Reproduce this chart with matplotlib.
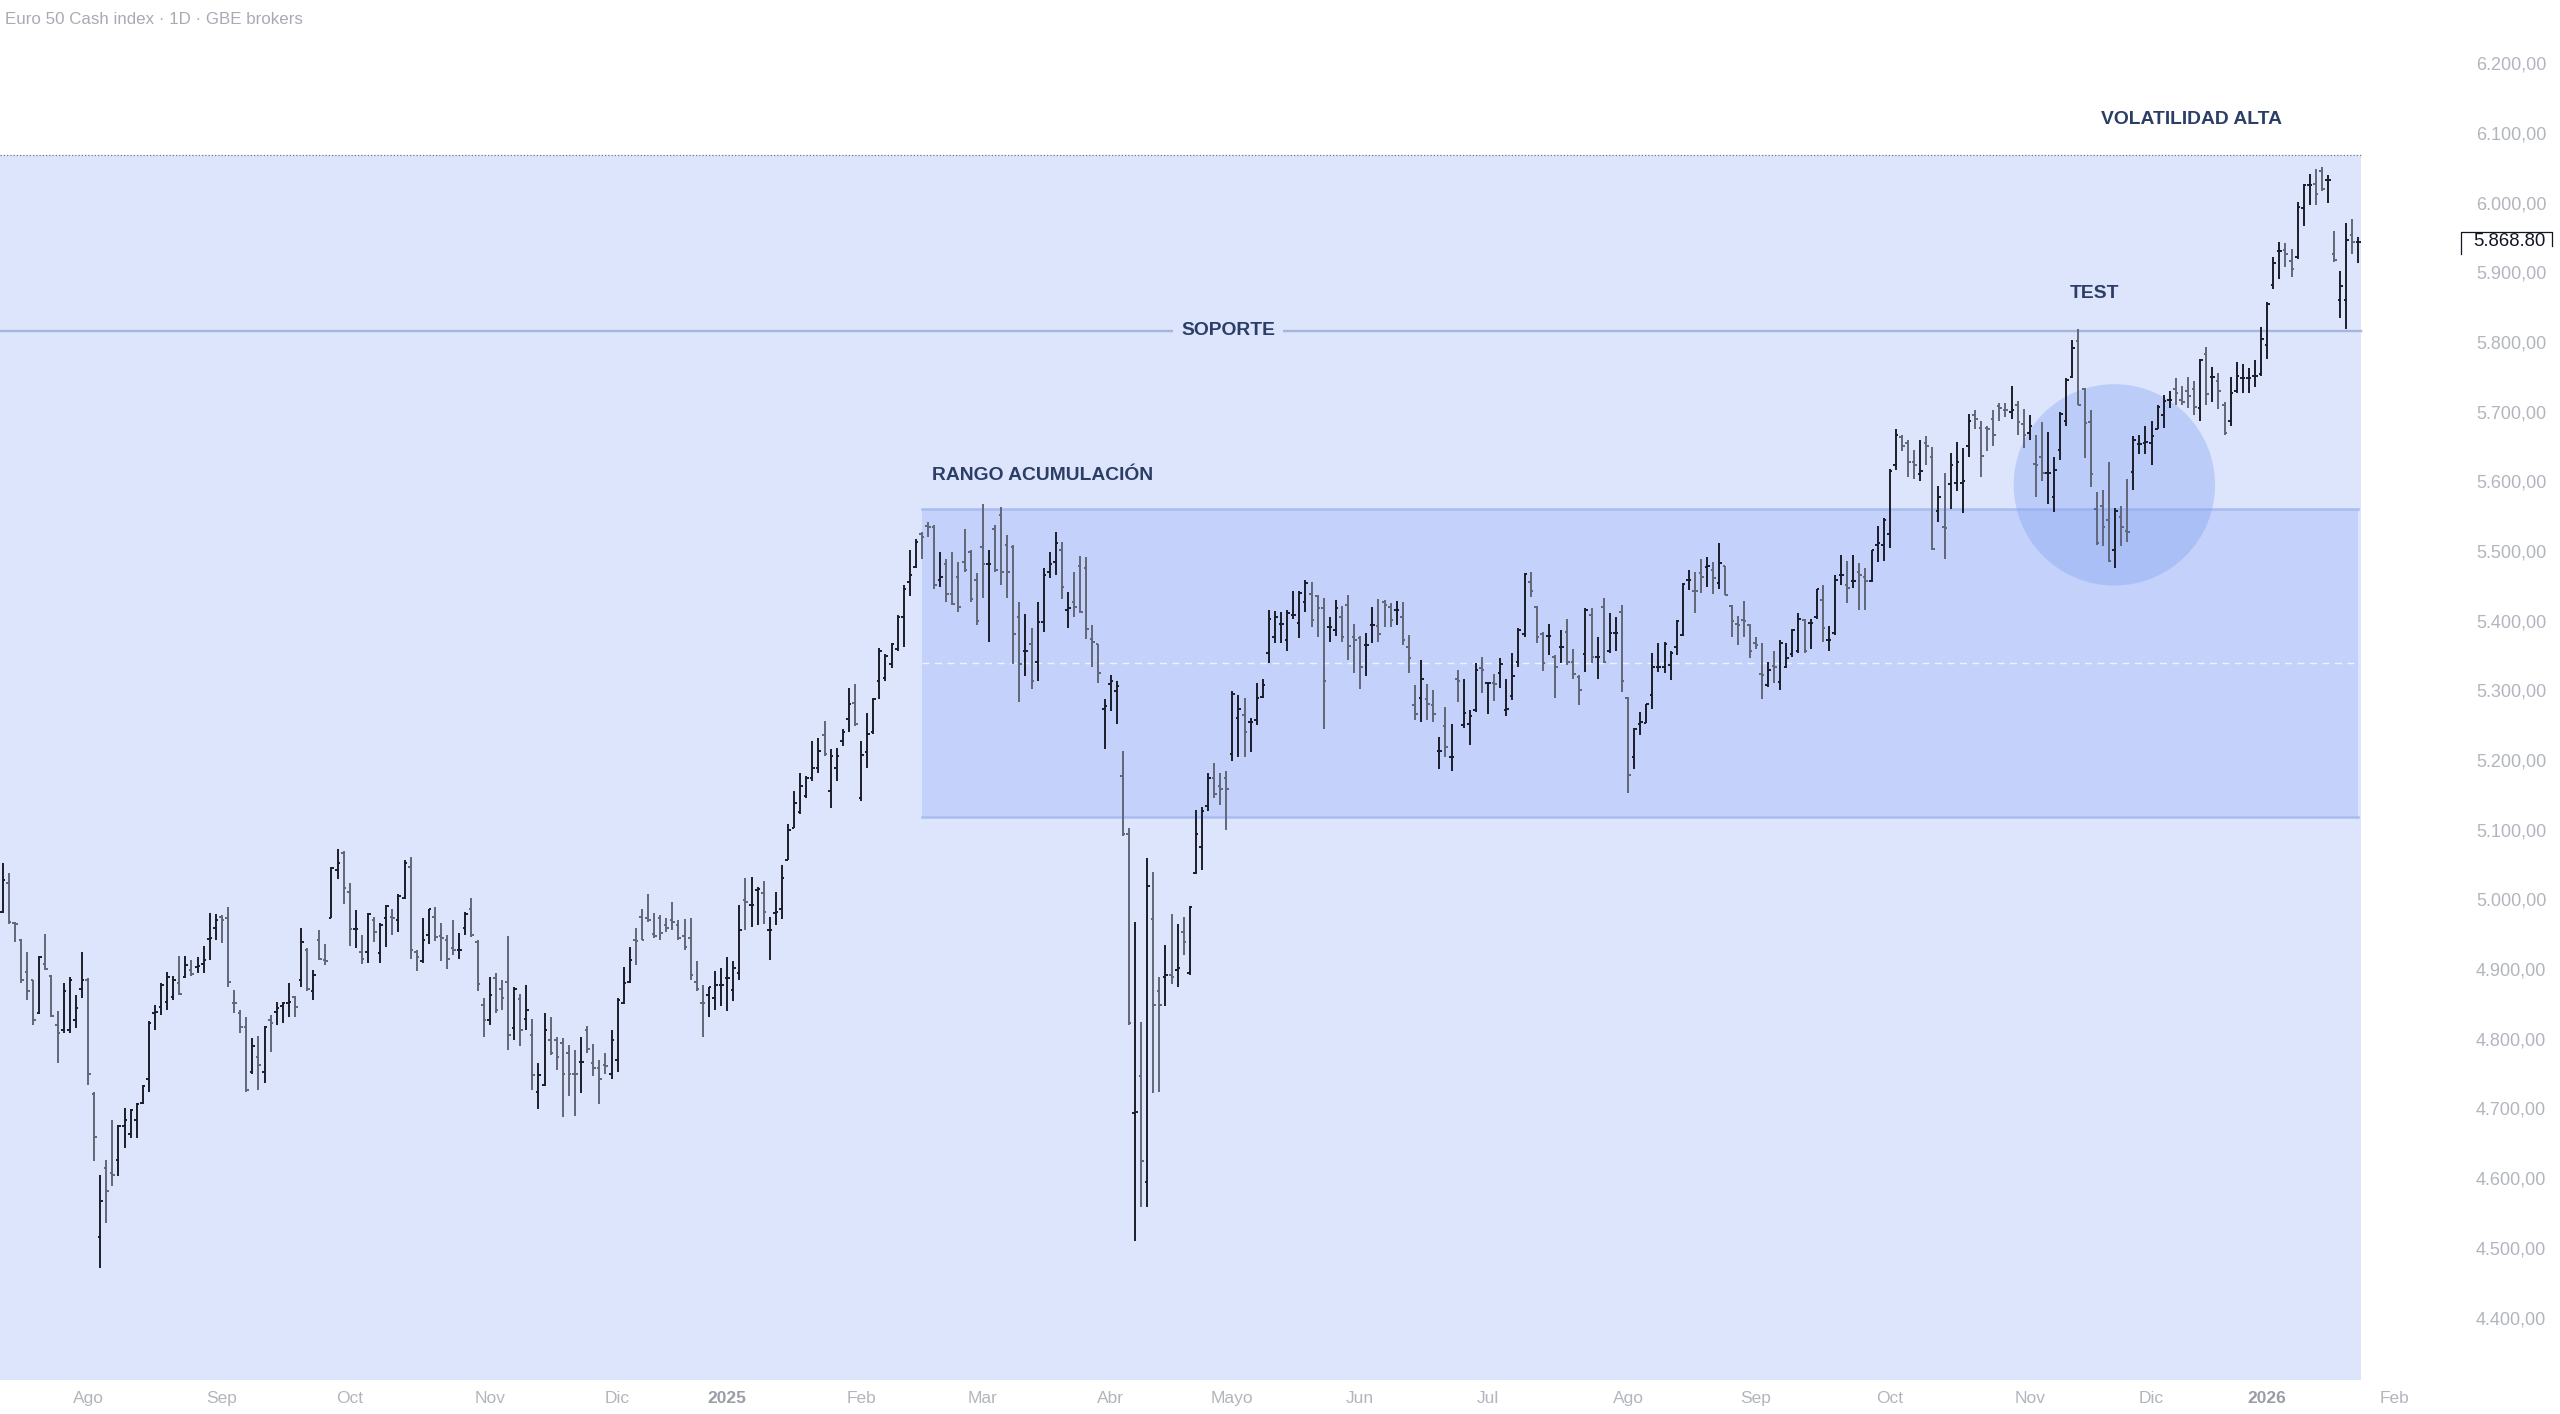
import numpy as np
import pandas as pd
import matplotlib
matplotlib.use("Agg")
import matplotlib.pyplot as plt
from matplotlib.collections import LineCollection
from matplotlib.patches import Rectangle, Ellipse
from matplotlib.lines import Line2D
from matplotlib.transforms import IdentityTransform
import matplotlib.transforms as mtransforms

# ---------------- data ----------------
title = "Euro 50 Cash index · 1D · GBE brokers"
start_date = "2024-07-12"
calendar_end = "2026-02-27"
holidays = ["2024-12-24", "2024-12-25", "2024-12-26", "2024-12-31", "2025-01-01",
            "2025-04-18", "2025-04-21", "2025-05-01", "2025-12-24", "2025-12-25",
            "2025-12-26", "2025-12-31", "2026-01-01"]

opens = [4982, 5023, 4966, 4942, 4896, 4884, 4837, 4908, 4890, 4820, 4812, 4813, 4827, 4871, 4885, 4721, 4516, 4614, 4607, 4626,
         4675, 4664, 4683, 4708, 4742, 4837, 4846, 4853, 4860, 4880, 4889, 4899, 4903, 4908, 4943, 4959, 4975, 4973, 4852, 4837,
         4817, 4753, 4774, 4753, 4827, 4839, 4847, 4851, 4860, 4884, 4927, 4868, 4942, 4913, 4973, 5042, 5066, 5011, 4958, 4925,
         4925, 4970, 4923, 4973, 4975, 4971, 5002, 5047, 4924, 4911, 4949, 4975, 4947, 4942, 4930, 4927, 4959, 4986, 4939, 4848,
         4827, 4887, 4872, 4881, 4815, 4857, 4828, 4805, 4724, 4734, 4798, 4799, 4794, 4779, 4750, 4767, 4813, 4765, 4758, 4762,
         4750, 4770, 4852, 4881, 4942, 4975, 4973, 4951, 4974, 4963, 4970, 4963, 4947, 4945, 4882, 4852, 4863, 4859, 4877, 4888,
         4870, 4894, 4999, 4992, 5013, 5009, 4956, 4981, 4987, 5056, 5102, 5125, 5149, 5174, 5188, 5236, 5156, 5188, 5227, 5259,
         5282, 5145, 5211, 5241, 5313, 5318, 5338, 5359, 5406, 5456, 5477, 5525, 5536, 5534, 5459, 5481, 5438, 5463, 5484, 5498,
         5459, 5506, 5481, 5532, 5552, 5509, 5506, 5406, 5356, 5366, 5341, 5398, 5470, 5484, 5502, 5416, 5427, 5479, 5475, 5374,
         5366, 5274, 5309, 5299, 5177, 5094, 4694, 4747, 4595, 4972, 4868, 4889, 4892, 4899, 4954, 4895, 5038, 5075, 5134, 5174,
         5163, 5175, 5209, 5260, 5265, 5254, 5257, 5291, 5353, 5377, 5396, 5372, 5408, 5397, 5427, 5439, 5435, 5418, 5391, 5387,
         5405, 5423, 5377, 5375, 5365, 5394, 5392, 5427, 5420, 5415, 5405, 5362, 5279, 5289, 5287, 5279, 5213, 5249, 5204, 5316,
         5250, 5252, 5272, 5332, 5310, 5310, 5325, 5272, 5292, 5341, 5381, 5456, 5420, 5381, 5378, 5348, 5362, 5384, 5341, 5319,
         5352, 5408, 5348, 5420, 5357, 5382, 5412, 5289, 5204, 5252, 5253, 5293, 5334, 5334, 5336, 5362, 5380, 5458, 5443, 5468,
         5477, 5473, 5454, 5478, 5421, 5396, 5401, 5394, 5368, 5323, 5308, 5335, 5312, 5334, 5352, 5357, 5401, 5397, 5405, 5430,
         5373, 5382, 5465, 5452, 5457, 5470, 5463, 5457, 5509, 5508, 5524, 5623, 5664, 5655, 5628, 5611, 5655, 5635, 5557, 5534,
         5596, 5598, 5598, 5651, 5695, 5677, 5676, 5690, 5708, 5703, 5700, 5709, 5682, 5669, 5625, 5635, 5612, 5578, 5645, 5687,
         5750, 5801, 5733, 5685, 5560, 5565, 5544, 5502, 5549, 5529, 5613, 5653, 5655, 5655, 5675, 5695, 5717, 5732, 5717, 5729,
         5732, 5705, 5783, 5750, 5744, 5709, 5687, 5729, 5749, 5749, 5751, 5754, 5796, 5882, 5931, 5932, 5916, 5922, 5992, 6025,
         6027, 6046, 6032, 5927, 5860, 5860, 5953, 5943]
highs = [5052, 5038, 4968, 4943, 4925, 4885, 4919, 4950, 4892, 4840, 4880, 4889, 4863, 4925, 4887, 4723, 4604, 4626, 4683, 4676,
         4700, 4699, 4708, 4734, 4825, 4848, 4880, 4896, 4890, 4919, 4919, 4913, 4918, 4933, 4981, 4979, 4978, 4989, 4870, 4842,
         4831, 4801, 4804, 4818, 4834, 4853, 4853, 4880, 4862, 4959, 4930, 4899, 4956, 4936, 5047, 5073, 5069, 5023, 4985, 4949,
         4980, 4975, 4966, 4992, 4987, 5008, 5056, 5061, 4927, 4973, 4987, 4989, 4966, 4949, 4971, 4952, 4982, 5002, 4942, 4858,
         4889, 4894, 4884, 4948, 4875, 4865, 4877, 4828, 4766, 4837, 4832, 4802, 4801, 4791, 4784, 4802, 4818, 4793, 4769, 4780,
         4813, 4858, 4903, 4932, 4959, 4987, 5008, 4980, 4977, 4974, 4997, 4970, 4972, 4974, 4911, 4877, 4875, 4897, 4902, 4918,
         4911, 4992, 5031, 5032, 5018, 5027, 4975, 5011, 5049, 5109, 5156, 5181, 5177, 5227, 5232, 5256, 5216, 5218, 5245, 5304,
         5309, 5227, 5268, 5289, 5361, 5352, 5368, 5408, 5452, 5502, 5518, 5527, 5541, 5538, 5498, 5488, 5498, 5484, 5532, 5502,
         5468, 5568, 5502, 5538, 5563, 5523, 5509, 5427, 5409, 5389, 5427, 5475, 5498, 5527, 5513, 5441, 5470, 5493, 5491, 5394,
         5366, 5288, 5322, 5313, 5213, 5102, 4967, 4824, 5059, 5039, 4889, 4934, 4979, 4965, 4975, 4991, 5129, 5132, 5181, 5196,
         5181, 5184, 5299, 5293, 5289, 5260, 5311, 5316, 5415, 5414, 5413, 5415, 5442, 5442, 5459, 5455, 5437, 5432, 5406, 5430,
         5421, 5437, 5396, 5378, 5382, 5420, 5431, 5430, 5426, 5429, 5427, 5380, 5308, 5344, 5309, 5301, 5233, 5276, 5252, 5329,
         5316, 5272, 5340, 5348, 5312, 5324, 5346, 5316, 5354, 5389, 5469, 5470, 5421, 5384, 5395, 5351, 5387, 5403, 5360, 5322,
         5418, 5419, 5376, 5432, 5411, 5405, 5423, 5291, 5246, 5269, 5281, 5353, 5368, 5370, 5356, 5401, 5454, 5473, 5470, 5488,
         5491, 5485, 5511, 5479, 5423, 5407, 5429, 5395, 5377, 5368, 5341, 5357, 5373, 5368, 5388, 5411, 5403, 5402, 5446, 5451,
         5392, 5466, 5494, 5486, 5494, 5483, 5475, 5502, 5536, 5547, 5618, 5675, 5667, 5660, 5645, 5660, 5665, 5650, 5593, 5612,
         5641, 5656, 5648, 5697, 5702, 5687, 5680, 5702, 5713, 5712, 5737, 5715, 5704, 5695, 5667, 5685, 5671, 5635, 5700, 5749,
         5803, 5818, 5734, 5702, 5585, 5587, 5628, 5562, 5564, 5603, 5665, 5667, 5680, 5687, 5709, 5724, 5730, 5748, 5737, 5750,
         5744, 5776, 5793, 5764, 5755, 5714, 5750, 5771, 5769, 5763, 5774, 5821, 5858, 5922, 5943, 5942, 5933, 6001, 6027, 6041,
         6049, 6051, 6040, 5959, 5902, 5971, 5977, 5951]
lows = [4981, 4965, 4939, 4880, 4856, 4820, 4835, 4899, 4831, 4765, 4808, 4808, 4815, 4858, 4734, 4624, 4471, 4536, 4589, 4603,
        4643, 4657, 4657, 4706, 4724, 4813, 4834, 4841, 4856, 4863, 4887, 4890, 4894, 4895, 4913, 4942, 4938, 4875, 4837, 4808,
        4724, 4750, 4726, 4736, 4781, 4820, 4822, 4832, 4832, 4875, 4869, 4856, 4913, 4906, 4973, 5030, 4994, 4933, 4930, 4907,
        4909, 4939, 4909, 4932, 4949, 4954, 5000, 4915, 4898, 4909, 4936, 4941, 4911, 4900, 4920, 4914, 4949, 4946, 4868, 4803,
        4820, 4837, 4841, 4784, 4798, 4789, 4813, 4727, 4699, 4732, 4777, 4755, 4688, 4718, 4689, 4722, 4779, 4747, 4707, 4750,
        4742, 4753, 4850, 4880, 4906, 4942, 4968, 4944, 4942, 4954, 4956, 4942, 4927, 4884, 4868, 4802, 4831, 4842, 4847, 4840,
        4854, 4884, 4956, 4961, 4963, 4965, 4913, 4963, 4972, 5056, 5102, 5122, 5145, 5170, 5181, 5206, 5131, 5170, 5220, 5241,
        5249, 5141, 5189, 5238, 5288, 5313, 5332, 5356, 5363, 5436, 5475, 5488, 5520, 5446, 5448, 5427, 5422, 5413, 5470, 5427,
        5394, 5432, 5370, 5470, 5452, 5432, 5338, 5284, 5320, 5302, 5313, 5384, 5461, 5466, 5431, 5389, 5406, 5411, 5374, 5334,
        5311, 5216, 5270, 5252, 5091, 4820, 4510, 4558, 4558, 4722, 4724, 4847, 4879, 4874, 4920, 4892, 5037, 5042, 5127, 5145,
        5136, 5099, 5199, 5205, 5205, 5211, 5250, 5289, 5340, 5368, 5368, 5357, 5402, 5375, 5413, 5391, 5376, 5244, 5370, 5378,
        5370, 5344, 5325, 5302, 5321, 5368, 5370, 5391, 5391, 5394, 5365, 5325, 5257, 5255, 5258, 5254, 5187, 5205, 5185, 5284,
        5246, 5222, 5269, 5296, 5266, 5285, 5304, 5263, 5286, 5334, 5377, 5434, 5368, 5328, 5351, 5289, 5340, 5336, 5317, 5279,
        5327, 5339, 5317, 5340, 5353, 5356, 5298, 5153, 5187, 5236, 5253, 5274, 5327, 5325, 5315, 5351, 5378, 5444, 5411, 5440,
        5448, 5439, 5445, 5437, 5376, 5365, 5377, 5346, 5359, 5287, 5305, 5311, 5301, 5332, 5348, 5354, 5353, 5359, 5402, 5370,
        5357, 5379, 5452, 5425, 5447, 5415, 5415, 5456, 5485, 5486, 5504, 5617, 5643, 5607, 5603, 5601, 5623, 5502, 5542, 5488,
        5561, 5586, 5555, 5635, 5675, 5607, 5643, 5651, 5686, 5692, 5690, 5667, 5648, 5660, 5578, 5601, 5567, 5556, 5631, 5680,
        5749, 5709, 5633, 5592, 5509, 5507, 5485, 5475, 5507, 5513, 5588, 5640, 5639, 5623, 5675, 5677, 5705, 5710, 5710, 5705,
        5695, 5686, 5710, 5714, 5704, 5667, 5679, 5727, 5727, 5727, 5735, 5751, 5775, 5876, 5890, 5907, 5893, 5919, 5966, 5996,
        5997, 6017, 5999, 5915, 5834, 5819, 5927, 5914]
closes = [5028, 4968, 4965, 4884, 4869, 4827, 4918, 4900, 4833, 4808, 4868, 4884, 4844, 4885, 4750, 4659, 4567, 4581, 4605, 4675,
          4684, 4698, 4707, 4732, 4822, 4839, 4877, 4889, 4885, 4865, 4906, 4893, 4904, 4913, 4944, 4970, 4971, 4882, 4851, 4817,
          4726, 4790, 4762, 4817, 4822, 4844, 4851, 4853, 4846, 4939, 4871, 4892, 4915, 4912, 5045, 5053, 5016, 4958, 4958, 4915,
          4979, 4954, 4963, 4991, 4974, 5005, 5053, 4928, 4917, 4942, 4986, 4946, 4944, 4914, 4928, 4928, 4979, 4949, 4879, 4827,
          4863, 4841, 4858, 4805, 4872, 4812, 4842, 4748, 4748, 4812, 4779, 4774, 4750, 4749, 4749, 4767, 4786, 4758, 4742, 4761,
          4799, 4856, 4880, 4913, 4941, 4942, 4970, 4947, 4952, 4959, 4968, 4945, 4932, 4892, 4872, 4851, 4874, 4877, 4877, 4888,
          4902, 4956, 4997, 4992, 5015, 4982, 4956, 4982, 5031, 5099, 5138, 5163, 5174, 5189, 5213, 5209, 5206, 5206, 5241, 5281,
          5252, 5208, 5238, 5288, 5356, 5349, 5366, 5406, 5445, 5466, 5513, 5520, 5534, 5452, 5463, 5439, 5424, 5420, 5473, 5431,
          5399, 5481, 5482, 5473, 5470, 5470, 5381, 5338, 5356, 5313, 5398, 5466, 5482, 5511, 5448, 5418, 5420, 5413, 5388, 5370,
          5325, 5277, 5313, 5306, 5094, 4822, 4695, 4625, 5020, 4849, 4849, 4892, 4889, 4902, 4939, 4989, 5094, 5127, 5175, 5152,
          5158, 5158, 5295, 5274, 5241, 5255, 5289, 5308, 5403, 5405, 5396, 5411, 5408, 5440, 5454, 5401, 5418, 5314, 5391, 5419,
          5376, 5364, 5373, 5334, 5365, 5394, 5381, 5423, 5401, 5415, 5373, 5347, 5266, 5316, 5280, 5266, 5213, 5219, 5204, 5314,
          5267, 5263, 5329, 5330, 5310, 5309, 5338, 5273, 5320, 5387, 5467, 5442, 5377, 5340, 5378, 5334, 5362, 5341, 5324, 5300,
          5416, 5348, 5348, 5341, 5383, 5382, 5313, 5179, 5244, 5254, 5280, 5333, 5334, 5367, 5353, 5399, 5453, 5458, 5442, 5463,
          5478, 5461, 5483, 5437, 5400, 5394, 5400, 5356, 5365, 5322, 5329, 5334, 5368, 5347, 5386, 5402, 5356, 5397, 5445, 5389,
          5373, 5459, 5466, 5447, 5457, 5466, 5457, 5501, 5512, 5544, 5615, 5666, 5651, 5628, 5623, 5615, 5651, 5503, 5578, 5533,
          5623, 5628, 5600, 5687, 5690, 5636, 5675, 5666, 5705, 5702, 5703, 5685, 5666, 5679, 5623, 5612, 5612, 5616, 5697, 5746,
          5791, 5709, 5684, 5611, 5512, 5534, 5486, 5557, 5534, 5528, 5660, 5653, 5656, 5665, 5707, 5715, 5717, 5727, 5714, 5723,
          5707, 5774, 5725, 5750, 5729, 5670, 5727, 5751, 5749, 5749, 5751, 5804, 5854, 5914, 5931, 5926, 5905, 5994, 6025, 6025,
          6013, 6020, 6032, 5918, 5881, 5946, 5943, 5944]

month_names = ["Ene", "Feb", "Mar", "Abr", "Mayo", "Jun", "Jul", "Ago", "Sep", "Oct", "Nov", "Dic"]
price_ticks = list(range(4400, 6201, 100))
last_price_text = "5.868.80"

support_level = 5816
range_top = 5560
range_bottom = 5118
volatility_top = 6068
range_start_date = "2025-02-17"
test_circle_date = "2025-11-21"
test_circle_price = 5595

labels = ["RANGO ACUMULACIÓN", "SOPORTE", "TEST", "VOLATILIDAD ALTA"]

# ---------------- calendar ----------------
all_days = pd.bdate_range(start_date, calendar_end)
all_days = all_days[~all_days.isin(pd.to_datetime(holidays))]
n = len(closes)
pos = {d: i for i, d in enumerate(all_days)}
idx = np.arange(n)

o = np.array(opens, float); h = np.array(highs, float)
l = np.array(lows, float); c = np.array(closes, float)

# ---------------- figure ----------------
W, H = 2560, 1414
fig = plt.figure(figsize=(W / 100, H / 100), dpi=100)
fig.patch.set_facecolor("white")
ax_left_px, ax_right_px, ax_bottom_px = 0, 2455, 1380
ax = fig.add_axes([ax_left_px / W, (H - ax_bottom_px) / H, (ax_right_px - ax_left_px) / W, ax_bottom_px / H])
ax.set_facecolor("white")
for s in ax.spines.values():
    s.set_visible(False)

px_per_bar = 6.087
first_px = 2.8
x0 = -first_px / px_per_bar
x1 = (ax_right_px - first_px) / px_per_bar
ax.set_xlim(x0, x1)
px_per_pt = 0.6968
y_top = 6200 + 63.3 / px_per_pt
y_bot = 6200 - (ax_bottom_px - 63.3) / px_per_pt
ax.set_ylim(y_bot, y_top)

bg_col = "#dde5fc"
box_col = "#c3d1fb"
text_col = "#2c3e66"
last_x = idx[-1]

# shaded background zone
ax.add_patch(Rectangle((x0, y_bot), last_x + 0.4 - x0, volatility_top - y_bot,
                       facecolor=bg_col, edgecolor="none", zorder=0))
ax.plot([x0, last_x + 0.4], [volatility_top, volatility_top], color="#6f7c96",
        lw=0.9, ls=(0, (1, 1.6)), zorder=1)

# accumulation range box
rs = pos[pd.Timestamp(range_start_date)]
ax.add_patch(Rectangle((rs, range_bottom), last_x - rs, range_top - range_bottom,
                       facecolor=box_col, edgecolor="none", zorder=1))
for yv in (range_top, range_bottom):
    ax.plot([rs, last_x], [yv, yv], color="#a9bcef", lw=1.8, zorder=1.5)
ax.plot([rs, last_x], [(range_top + range_bottom) / 2] * 2, color="#eef2fe",
        lw=1.0, ls=(0, (5, 4)), zorder=1.5)

# test circle
tc = pos[pd.Timestamp(test_circle_date)]
radius_px = 100.7
ax.add_patch(Ellipse((tc - 0.1, test_circle_price), 2 * radius_px / px_per_bar, 2 * radius_px / px_per_pt,
                     facecolor="#86a4f2", alpha=0.38, edgecolor="none", zorder=2))

# support line
ax.plot([x0, last_x + 0.4], [support_level, support_level], color="#a6b5dc", lw=1.7, zorder=2.5)

# OHLC bars
tick = 0.42
segs, cols = [], []
up_col, dn_col = "#1b1e29", "#626777"
for i in idx:
    col = up_col if c[i] >= o[i] else dn_col
    segs += [[(i, l[i]), (i, h[i])], [(i - tick, o[i]), (i, o[i])], [(i, c[i]), (i + tick, c[i])]]
    cols += [col, col, col]
ax.add_collection(LineCollection(segs, colors=cols, linewidths=1.4, zorder=3, capstyle="butt"))

# annotations
fam = ["Liberation Sans", "DejaVu Sans"]
fs_ann = 13.9
ax.text(152.7, 5609, labels[0], ha="left", va="center", fontsize=fs_ann, fontweight="bold",
        color=text_col, family=fam, zorder=5)
ax.text(201.3, support_level, labels[1], ha="center", va="center", fontsize=fs_ann, fontweight="bold",
        color=text_col, family=fam, zorder=5,
        bbox=dict(facecolor=bg_col, edgecolor="none", boxstyle="square,pad=0.4"))
ax.text(343.7, 5870, labels[2], ha="center", va="center", fontsize=fs_ann, fontweight="bold",
        color=text_col, family=fam, zorder=5)
ax.text(359.6, 6120, labels[3], ha="center", va="center", fontsize=fs_ann, fontweight="bold",
        color=text_col, family=fam, zorder=5)

# y axis (right)
def fmt_price(v):
    s = f"{v:,.2f}"
    return s.replace(",", "X").replace(".", ",").replace("X", ".")

ax.yaxis.tick_right()
ax.set_yticks(price_ticks)
ax.set_yticklabels([fmt_price(v) for v in price_ticks])
ax.tick_params(axis="y", length=0, pad=15, labelsize=13, labelcolor="#b2b5be")
for t in ax.get_yticklabels():
    t.set_family(fam)

# x axis: first trading day of each month (only months that start inside the data window)
xt, xl, is_year = [], [], []
prev_month = None
for i, d in enumerate(all_days):
    key = (d.year, d.month)
    if key != prev_month:
        prev_month = key
        month_start = pd.Timestamp(d.year, d.month, 1)
        if month_start >= pd.Timestamp(start_date) and x0 <= i <= x1:
            xt.append(i)
            if d.month == 1:
                xl.append(str(d.year)); is_year.append(True)
            else:
                xl.append(month_names[d.month - 1]); is_year.append(False)
ax.set_xticks(xt)
ax.set_xticklabels(xl)
ax.tick_params(axis="x", length=0, pad=8, labelsize=12.5, labelcolor="#b2b5be")
for t, y in zip(ax.get_xticklabels(), is_year):
    t.set_family(fam)
    if y:
        t.set_fontweight("bold")
        t.set_color("#9a9da6")

# last price label with bracket-style frame
trans = mtransforms.blended_transform_factory(ax.transAxes, ax.transData)
ax.text(2473 / ax_right_px, c[-1], last_price_text, transform=trans, ha="left", va="center",
        fontsize=13.4, color="#131722", family=fam, clip_on=False, zorder=6)
fig.canvas.draw()
_, yc = ax.transData.transform((0, c[-1]))
xl_px, xr_px = 2460.7, 2551.7
frame = Line2D([xl_px, xl_px, xr_px, xr_px], [yc - 12, yc + 10, yc + 10, yc - 4],
               transform=IdentityTransform(), color="#131722", lw=0.9)
fig.add_artist(frame)

# title
fig.text(5 / W, 1 - 19 / H, title, ha="left", va="center", fontsize=12.2, color="#a8abb4", family=fam)

fig.savefig("out.png", dpi=100, facecolor="white")
